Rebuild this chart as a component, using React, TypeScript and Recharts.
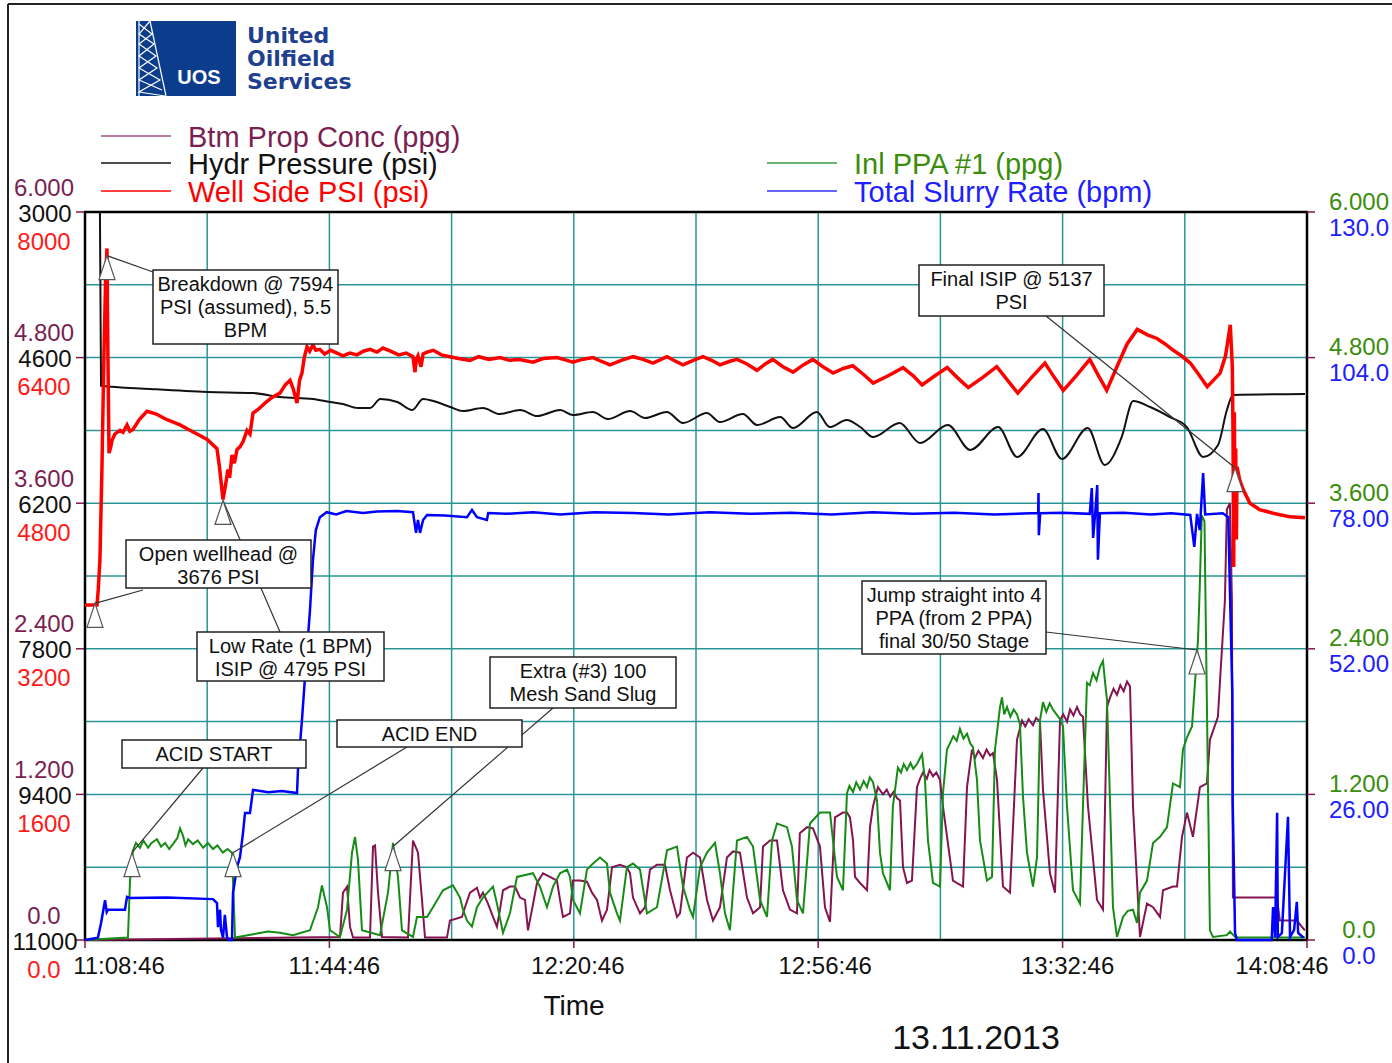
import React from "react";
import {
  ComposedChart,
  Line,
  XAxis,
  YAxis,
  CartesianGrid,
  ReferenceArea,
  ReferenceDot,
} from "recharts";

const W = 1392;
const H = 1063;
const FONT = '"Liberation Sans", Arial, sans-serif';

// colours
const GRID = "#2a9696";
const MAROON = "#85154f";
const PROP_TXT = "#7b1f52";
const GREEN = "#168c16";
const GREEN_TXT = "#3b8d0c";
const BLUE = "#0000ff";
const BLUE_TXT = "#2020ff";
const RED = "#ff0000";

// time is in minutes after 11:08:46
const TIME_TICKS = [0, 36, 72, 108, 144, 180];
const TIME_LABELS = ["11:08:46", "11:44:46", "12:20:46", "12:56:46", "13:32:46", "14:08:46"];
const GRID_MINUTES = [0, 18, 36, 54, 72, 90, 108, 126, 144, 162, 180];
const GRID_PSI = [0, 800, 1600, 2400, 3200, 4000, 4800, 5600, 6400, 7200, 8000];

const PROP_TICKS = [0, 1.2, 2.4, 3.6, 4.8, 6];
const PROP_LABELS = ["0.0", "1.200", "2.400", "3.600", "4.800", "6.000"];
const HYDR_TICKS = [3000, 4600, 6200, 7800, 9400, 11000];
const HYDR_LABELS = ["3000", "4600", "6200", "7800", "9400", "11000"];
const WELL_TICKS = [0, 1600, 3200, 4800, 6400, 8000];
const WELL_LABELS = ["0.0", "1600", "3200", "4800", "6400", "8000"];
const PPA_TICKS = [0, 1.2, 2.4, 3.6, 4.8, 6];
const PPA_LABELS = ["0.0", "1.200", "2.400", "3.600", "4.800", "6.000"];
const RATE_TICKS = [0, 26, 52, 78, 104, 130];
const RATE_LABELS = ["0.0", "26.00", "52.00", "78.00", "104.0", "130.0"];

// [minute, psi]
const WELL_SIDE_PSI = [
  [0, 3680], [1.77, 3680], [1.95, 3850], [2.2, 4180], [2.5, 5200], [2.8, 6480], [3.05, 7300], [3.24, 7600],
  [3.35, 6600], [3.54, 5350], [3.8, 5420], [3.98, 5490], [4.4, 5560], [5.16, 5600], [5.6, 5580], [6.19, 5660],
  [6.6, 5590], [7.07, 5610], [8.0, 5720], [9.13, 5810], [10.5, 5780], [12.0, 5720], [14.0, 5660], [16.0, 5580],
  [18.0, 5500], [19.44, 5400], [19.8, 5200], [20.33, 4840], [20.7, 5000], [21.06, 5170], [21.3, 5080], [21.65, 5330],
  [22.0, 5240], [22.4, 5390], [22.83, 5420], [23.3, 5480], [23.86, 5600], [24.3, 5560], [24.75, 5790], [25.5, 5830],
  [26.5, 5900], [27.5, 5960], [28.72, 6010], [29.5, 6100], [30.2, 6150], [30.7, 6050], [31.23, 5900], [31.6, 6150],
  [31.96, 6230], [32.3, 6400], [32.7, 6520], [33.1, 6470], [33.58, 6540], [34.0, 6480], [34.6, 6490], [35.3, 6440],
  [36.2, 6480], [37.12, 6450], [38.0, 6420], [39.0, 6450], [40.07, 6430], [41.0, 6470], [42.0, 6490], [43.0, 6460],
  [43.89, 6505], [45.0, 6470], [46.2, 6430], [47.3, 6450], [48.31, 6410], [48.61, 6240], [48.8, 6380], [49.05, 6420],
  [49.5, 6300], [49.8, 6440], [50.38, 6460], [51.3, 6480], [52.5, 6430], [53.76, 6410], [55.0, 6390], [56.71, 6370],
  [58.0, 6410], [59.5, 6380], [61.13, 6400], [62.5, 6370], [64.0, 6380], [65.99, 6350], [67.5, 6390], [69.52, 6400],
  [71.0, 6370], [71.88, 6350], [73.2, 6380], [74.83, 6400], [76.0, 6360], [77.33, 6320], [79.0, 6370], [80.72, 6410],
  [82.2, 6380], [83.67, 6340], [85.73, 6410], [87.0, 6360], [88.08, 6320], [89.6, 6370], [91.03, 6410], [92.3, 6370],
  [93.53, 6320], [95.0, 6360], [96.04, 6380], [97.5, 6330], [98.98, 6260], [100.2, 6330], [101.3, 6380], [102.8, 6300],
  [104.3, 6240], [105.8, 6320], [107.2, 6380], [108.7, 6300], [110.2, 6230], [111.7, 6280], [113.1, 6310], [114.6, 6220],
  [116.1, 6120], [118.3, 6200], [120.5, 6290], [122.0, 6200], [123.3, 6100], [125.2, 6200], [127.0, 6290], [128.5, 6180],
  [130.1, 6070], [132.2, 6180], [134.3, 6300], [135.9, 6150], [137.4, 6010], [139.4, 6180], [141.4, 6340], [142.8, 6180],
  [144.1, 6040], [146.0, 6200], [148.0, 6380], [149.3, 6200], [150.5, 6040], [152.0, 6300], [153.5, 6550], [155.0, 6710],
  [156.5, 6650], [157.9, 6610], [159.1, 6550], [160.3, 6480], [161.5, 6420], [162.8, 6340], [164.0, 6220], [165.3, 6080],
  [166.2, 6150], [167.2, 6230], [168.0, 6420], [168.7, 6760], [169.0, 6300], [169.1, 5600], [169.2, 4100], [169.3, 5800],
  [169.4, 4600], [169.5, 5400], [169.6, 4400], [169.7, 5200], [170.1, 5050], [170.6, 4950], [171.6, 4800], [173.0, 4730],
  [175.0, 4690], [177.5, 4650], [179.7, 4640],
];

// [minute, psi] on the reversed 3000..11000 scale
const HYDR_PRESSURE = [
  [2.2, 3000], [2.36, 4910], [9.6, 4945], [18.0, 4978], [24.8, 4990], [28.7, 5033], [33.6, 5055], [36.1, 5088],
  [38.0, 5110], [40.2, 5154], [42.0, 5154], [43.5, 5055], [46.0, 5088], [48.2, 5176], [49.8, 5055], [51.3, 5077],
  [53.8, 5143], [55.7, 5187], [58.6, 5154], [61.1, 5220], [64.1, 5176], [66.6, 5242], [70.0, 5176], [71.9, 5231],
  [74.8, 5198], [77.0, 5275], [80.3, 5187], [82.5, 5264], [85.7, 5198], [88.1, 5319], [91.6, 5209], [93.5, 5308],
  [96.9, 5220], [99.0, 5341], [102.4, 5253], [104.3, 5374], [107.8, 5198], [109.7, 5363], [112.2, 5286], [114.2, 5363],
  [116.1, 5473], [120.0, 5319], [123.0, 5538], [127.1, 5341], [130.4, 5615], [134.5, 5363], [137.3, 5692], [141.1, 5385],
  [143.9, 5714], [147.7, 5374], [150.2, 5780], [152.7, 5473], [154.4, 5077], [156.9, 5143], [159.8, 5253], [162.3, 5363],
  [164.7, 5692], [166.9, 5560], [168.2, 5176], [169.1, 5011], [179.7, 5000],
];

// [minute, bpm]
const SLURRY_RATE = [
  [0, 0], [1.9, 0.4], [2.36, 3.0], [2.95, 7.1], [3.2, 5.0], [3.39, 5.4], [5.89, 5.4], [6.19, 7.7], [6.63, 7.5],
  [12, 7.6], [18.85, 7.3], [19.44, 6.6], [19.59, 2.3], [19.89, 5.4], [20.03, 1.8], [20.33, 0.4], [20.6, 4.5],
  [20.92, 0.5], [21.21, 0], [21.65, 0], [21.8, 8.4], [22.39, 13.0], [22.83, 14.8], [23.27, 19.1], [23.57, 22.7],
  [24.3, 22.7], [24.75, 26.8], [27, 26.4], [29, 26.6], [31.23, 26.25], [31.37, 30.4], [31.96, 39.3], [32.41, 47.0],
  [33.14, 58.9], [33.58, 67.9], [34.0, 73.2], [34.6, 75.5], [35.6, 76.4], [37, 76.0], [38.5, 76.6], [40.95, 76.25],
  [43, 76.5], [45.96, 76.6], [48.31, 76.4], [48.76, 72.7], [49.05, 75.0], [49.35, 72.7], [49.8, 75.0], [50.38, 75.9],
  [53, 75.8], [56.27, 75.5], [57.0, 76.8], [57.74, 75.5], [59.2, 75.0], [59.4, 76.25], [62, 76.1], [66.0, 76.4],
  [70, 76.0], [75, 76.4], [80.7, 76.25], [86, 76.0], [92, 76.4], [98, 76.1], [104, 76.3], [110, 76.0], [116, 76.4],
  [122, 76.1], [128, 76.3], [134, 76.0], [140.4, 76.25], [140.45, 79.8], [140.5, 72.3], [140.7, 76.2], [144, 76.3],
  [148.0, 76.1], [148.3, 80.7], [148.5, 71.8], [148.8, 76.2], [149.1, 81.25], [149.2, 67.9], [149.5, 76.2], [153, 76.3],
  [157, 76.0], [160, 76.2], [162.8, 75.9], [163.4, 70.2], [163.8, 76.1], [164.2, 73.2], [164.7, 83.4], [165.0, 76.0],
  [167.6, 76.2], [168.4, 75.5], [169.0, 44.1], [169.05, 25], [169.4, 1.25], [169.7, 0], [174.8, 0], [175.0, 5.9],
  [175.3, 0.5], [175.6, 22.7], [175.7, 0.5], [176.3, 1.25], [177.2, 22], [177.5, 0.5], [178.1, 1.8], [178.5, 6.8],
  [178.7, 1.25], [179.5, 0.4],
];

// [minute, ppg]
const INLET_PPA = [
  [0, 0], [6.33, 0.02], [6.63, 0.49], [7.07, 0.74], [7.5, 0.8], [8.1, 0.76], [8.6, 0.82], [9.3, 0.76], [9.8, 0.8],
  [10.6, 0.83], [11.2, 0.77], [11.8, 0.8], [12.4, 0.75], [12.96, 0.79], [13.6, 0.84], [14.0, 0.92], [14.43, 0.86],
  [14.8, 0.78], [15.2, 0.83], [15.9, 0.79], [16.6, 0.82], [17.4, 0.76], [18.1, 0.8], [18.85, 0.75], [19.5, 0.78],
  [20.3, 0.72], [21.0, 0.75], [21.65, 0.72],
  [21.8, 0.49], [22.1, 0.02], [26.96, 0.07], [28.72, 0.06], [30.64, 0.04], [33.14, 0.08], [34.32, 0.27], [34.9, 0.45],
  [35.65, 0.27], [36.09, 0.08], [37.56, 0.025], [38.6, 0.25], [39.33, 0.72], [39.77, 0.85], [40.21, 0.66], [40.8, 0.08],
  [43.45, 0.04], [44.63, 0.39], [45.37, 0.8], [46.1, 0.52], [46.69, 0.08], [48.31, 0.025], [48.9, 0.19], [50.38, 0.19],
  [51.26, 0.27], [52.73, 0.41], [54.2, 0.45], [55.24, 0.35], [55.68, 0.25], [56.27, 0.16], [57.0, 0.11], [57.74, 0.27],
  [58.62, 0.35], [60.1, 0.44], [60.68, 0.3], [61.57, 0.06], [62.6, 0.22], [63.63, 0.52], [65.99, 0.55], [67.02, 0.44],
  [68.05, 0.27], [68.94, 0.44], [69.97, 0.55], [71.0, 0.58], [71.44, 0.52], [71.88, 0.33], [72.91, 0.22], [73.94, 0.58],
  [74.83, 0.63], [75.86, 0.68], [76.89, 0.63], [77.33, 0.39], [78.36, 0.22], [78.8, 0.16], [79.83, 0.6], [80.72, 0.63],
  [81.75, 0.58], [82.78, 0.22], [84.25, 0.27], [85.14, 0.55], [85.73, 0.74], [87.2, 0.77], [88.08, 0.44], [89.11, 0.25],
  [89.56, 0.19], [90.59, 0.6], [91.62, 0.72], [92.8, 0.8], [93.53, 0.55], [94.27, 0.22], [95.0, 0.08], [96.04, 0.82],
  [97.51, 0.85], [98.4, 0.77], [99.43, 0.33], [100.46, 0.19], [101.2, 0.82], [101.93, 0.96], [103.4, 0.93], [104.14, 0.77],
  [104.87, 0.33], [105.76, 0.22], [106.79, 0.96], [108.26, 1.05], [109.74, 1.05], [110.18, 0.82], [110.77, 0.52],
  [111.65, 0.41], [112.24, 1.21], [112.6, 1.27], [113.13, 1.22], [113.6, 1.3], [114.16, 1.24], [114.7, 1.31],
  [115.19, 1.26], [115.6, 1.34], [116.07, 1.3], [116.66, 1.15],
  [117.1, 0.72], [117.54, 0.55], [118.57, 0.41], [119.0, 1.1], [119.74, 1.42], [120.2, 1.38], [120.6, 1.45],
  [121.08, 1.4], [121.6, 1.46], [122.0, 1.41], [122.55, 1.45], [123.0, 1.5], [123.29, 1.53], [123.73, 1.32],
  [124.17, 0.82], [124.91, 0.47], [125.94, 0.44], [126.38, 1.21], [126.97, 1.57], [127.4, 1.62], [127.9, 1.68],
  [128.4, 1.64], [128.88, 1.74], [129.4, 1.66], [129.92, 1.7], [130.4, 1.62], [130.8, 1.59], [131.39, 1.32],
  [131.83, 0.82], [132.86, 0.49], [133.6, 0.52], [134.04, 1.57], [134.78, 1.92], [135.07, 2.0], [135.4, 1.86],
  [135.81, 1.92], [136.3, 1.84], [136.8, 1.9], [137.28, 1.86], [137.72, 1.78], [138.17, 1.18],
  [138.75, 0.72], [139.64, 0.44], [140.23, 0.68], [140.67, 1.81], [141.11, 1.96], [141.6, 1.88], [142.1, 1.95],
  [142.58, 1.9], [143.1, 1.86], [143.62, 1.82], [144.06, 1.76], [144.65, 1.1], [145.53, 0.41], [146.56, 0.3],
  [147.0, 1.1], [147.59, 2.12], [148.0, 2.1], [148.48, 2.2], [149.0, 2.14], [149.5, 2.25], [149.95, 2.3],
  [150.3, 2.1], [150.54, 1.98], [150.98, 1.15], [151.42, 0.27], [152.01, 0.025], [152.9, 0.19], [153.6, 0.24],
  [154.37, 0.25], [154.96, 0.14], [155.4, 0.39], [156.43, 0.49], [157.32, 0.8], [158.35, 0.85], [159.38, 0.93],
  [160.26, 1.29], [161.29, 1.26], [161.73, 1.57], [162.32, 1.67], [163.06, 1.76], [163.5, 2.12], [163.94, 2.47],
  [164.2, 2.9], [164.5, 3.5], [164.9, 3.45], [165.05, 2.8], [165.7, 0.08], [166.14, 0.025], [168.2, 0.04],
  [168.65, 0.07], [169.5, 0.02], [179.7, 0.02],
];

// [minute, ppg]
const PROP_CONC = [
  [0, 0], [37.56, 0.025], [38.0, 0.39], [38.6, 0.44], [39.03, 0.11], [39.48, 0.02], [41.98, 0.02], [42.42, 0.77],
  [42.72, 0.78], [43.16, 0.39], [43.75, 0.025], [47.58, 0.02], [48.31, 0.82], [48.9, 0.74], [49.05, 0.72], [49.64, 0.33],
  [50.08, 0.02], [53.32, 0.02], [53.76, 0.16], [55.53, 0.19], [55.97, 0.27], [56.71, 0.39], [57.74, 0.43], [58.18, 0.35],
  [58.62, 0.39], [59.36, 0.3], [60.1, 0.19], [60.68, 0.11], [61.13, 0.25], [61.57, 0.41], [62.6, 0.44], [63.34, 0.44],
  [64.07, 0.35], [64.81, 0.33], [65.25, 0.08], [65.84, 0.25], [66.58, 0.47], [67.46, 0.55], [68.49, 0.52], [69.52, 0.49],
  [69.97, 0.33], [70.41, 0.19], [71.44, 0.22], [71.88, 0.49], [72.91, 0.49], [73.94, 0.48], [74.68, 0.39], [75.42, 0.33],
  [76.15, 0.16], [76.89, 0.25], [77.63, 0.6], [78.8, 0.62], [79.83, 0.6], [80.28, 0.55], [80.72, 0.35], [81.75, 0.22],
  [82.49, 0.27], [83.22, 0.58], [84.25, 0.62], [85.43, 0.62], [86.17, 0.41], [87.2, 0.19], [87.64, 0.22], [88.67, 0.68],
  [89.56, 0.72], [90.59, 0.68], [91.62, 0.33], [92.5, 0.16], [93.53, 0.27], [94.56, 0.68], [95.45, 0.73], [96.48, 0.72],
  [97.51, 0.35], [98.4, 0.22], [99.43, 0.27], [99.87, 0.77], [100.9, 0.82], [101.93, 0.82], [102.81, 0.41], [103.84, 0.25],
  [104.87, 0.22], [105.3, 0.88], [106.35, 0.93], [107.23, 0.92], [108.26, 0.77], [109.0, 0.27], [109.74, 0.15],
  [110.47, 1.01], [111.65, 1.05], [112.24, 1.05], [112.68, 1.01], [113.13, 0.82], [113.42, 0.52], [114.16, 0.47],
  [115.19, 0.41], [115.63, 0.93], [116.07, 1.1], [116.8, 1.26], [117.54, 1.2], [118.1, 1.24], [118.6, 1.18],
  [119.1, 1.22], [119.6, 1.17], [120.05, 1.15],
  [120.49, 0.6], [121.08, 0.47], [121.81, 0.49], [122.55, 1.26], [123.0, 1.33], [123.44, 1.38], [124.0, 1.33],
  [124.4, 1.4], [124.91, 1.35], [125.4, 1.38], [125.94, 1.32],
  [126.38, 1.1], [127.85, 0.49], [129.33, 0.44], [129.92, 1.26], [130.65, 1.57], [131.1, 1.5], [131.6, 1.56],
  [132.27, 1.5], [132.8, 1.57], [133.3, 1.52], [133.75, 1.54],
  [134.34, 1.32], [135.22, 0.44], [136.25, 0.39], [137.28, 1.65], [138.02, 1.81], [138.5, 1.76], [139.0, 1.82],
  [139.64, 1.77], [140.1, 1.83], [140.67, 1.8],
  [141.11, 1.24], [142.14, 0.55], [142.88, 0.39], [143.62, 1.81], [144.1, 1.86], [144.65, 1.8], [145.1, 1.9],
  [145.6, 1.85], [146.12, 1.92], [146.6, 1.86], [147.0, 1.84],
  [147.74, 1.1], [149.07, 0.33], [149.95, 0.25], [150.54, 1.92], [151.0, 2.0], [151.5, 2.07], [152.01, 2.02],
  [152.5, 2.1], [153.0, 2.05], [153.49, 2.13], [153.93, 2.09],
  [154.37, 1.1], [155.4, 0.025], [156.43, 0.3], [157.32, 0.27], [158.35, 0.19], [158.79, 0.41], [160.26, 0.44],
  [160.85, 0.44], [161.59, 0.85], [162.32, 1.05], [163.2, 0.85], [164.23, 1.26], [165.26, 1.29], [165.7, 1.65],
  [166.88, 1.84], [167.17, 2.12], [167.91, 2.8], [168.2, 3.55], [168.65, 3.6], [168.94, 2.8], [169.09, 0.35],
  [175.56, 0.35], [176.0, 0.16], [178.5, 0.16], [179.68, 0.08],
];

const toRows = (pts: number[][]) => pts.map(([m, v]) => ({ m, v }));

// annotation markers: point on a series, and where its leader line meets the text box
const MARKERS = [
  { axis: "well", m: 3.24, v: 7520, to: [153, 272] },
  { axis: "well", m: 1.47, v: 3700, to: [143, 590] },
  { axis: "well", m: 20.33, v: 4830, to: [280, 632] },
  { axis: "ppa", m: 6.92, v: 0.72, to: [203, 768] },
  { axis: "ppa", m: 21.8, v: 0.72, to: [407, 747] },
  { axis: "ppa", m: 45.37, v: 0.77, to: [553, 708] },
  { axis: "ppa", m: 163.8, v: 2.39, to: [1046, 632] },
  { axis: "well", m: 169.4, v: 5190, to: [1046, 316] },
];

const BOXES = [
  { x: 153, y: 270, w: 185, h: 74, lines: ["Breakdown @ 7594", "PSI (assumed), 5.5", "BPM"] },
  { x: 126, y: 540, w: 185, h: 48, lines: ["Open wellhead @", "3676 PSI"] },
  { x: 197, y: 632, w: 187, h: 49, lines: ["Low Rate (1 BPM)", "ISIP @ 4795 PSI"] },
  { x: 122, y: 740, w: 184, h: 28, lines: ["ACID START"] },
  { x: 337, y: 720, w: 185, h: 27, lines: ["ACID END"] },
  { x: 490, y: 657, w: 186, h: 51, lines: ["Extra (#3) 100", "Mesh Sand Slug"] },
  { x: 862, y: 581, w: 184, h: 73, lines: ["Jump straight into 4", "PPA (from 2 PPA)", "final 30/50 Stage"] },
  { x: 919, y: 265, w: 185, h: 51, lines: ["Final ISIP @ 5137", "PSI"] },
];

function axisTick(ticks: number[], labels: string[], cx: number, dy: number, color: string) {
  return (props: any) => {
    const i = ticks.indexOf(props.payload.value);
    return (
      <text
        x={cx}
        y={props.y + dy}
        textAnchor="middle"
        dominantBaseline="central"
        fill={color}
        fontSize={24}
        fontFamily={FONT}
      >
        {labels[i]}
      </text>
    );
  };
}

const TIME_SHIFT = [34, 5, 4, 7, 5, -25];

function TimeTick(props: any) {
  const i = TIME_TICKS.indexOf(props.payload.value);
  return (
    <text
      x={props.x + TIME_SHIFT[i]}
      y={props.y + 15}
      textAnchor="middle"
      dominantBaseline="central"
      fill="#111"
      fontSize={24}
      fontFamily={FONT}
    >
      {TIME_LABELS[i]}
    </text>
  );
}

function Marker({ cx, cy, to }: { cx: number; cy: number; to: number[] }) {
  return (
    <g>
      <line x1={cx} y1={cy} x2={to[0]} y2={to[1]} stroke="#333" strokeWidth={1.2} />
      <polygon
        points={`${cx},${cy} ${cx - 8},${cy + 24} ${cx + 8},${cy + 24}`}
        fill="#fff"
        stroke="#555"
        strokeWidth={1.2}
      />
    </g>
  );
}

function Logo() {
  return (
    <g>
      <rect x={136} y={21} width={100} height={75} fill="#0b3d8c" />
      <g stroke="#fff" strokeWidth={1.2} fill="none">
        <line x1={139} y1={21} x2={139} y2={96} />
        <line x1={150} y1={21} x2={166} y2={96} />
        <polyline points="139,24 152,34 139,44 156,56 139,68 160,80 139,92 165,96" />
        <polyline points="150,21 139,34 154,44 139,56 157,68 139,80 162,90" />
      </g>
      <text x={199} y={77} textAnchor="middle" dominantBaseline="central" fill="#fff"
        fontSize={20} fontWeight="bold" fontFamily={FONT}>UOS</text>
      <g fill="#1f3f8f" fontSize={22} fontWeight="bold" fontFamily='"DejaVu Sans", Verdana, sans-serif'>
        <text x={247} y={35} dominantBaseline="central">United</text>
        <text x={247} y={58} dominantBaseline="central">Oilfield</text>
        <text x={247} y={81} dominantBaseline="central">Services</text>
      </g>
    </g>
  );
}

function LegendRow({ x, y, color, lineColor, label }: { x: number; y: number; color: string; lineColor: string; label: string }) {
  return (
    <g>
      <line x1={x} y1={y - 1} x2={x + 70} y2={y - 1} stroke={lineColor} strokeWidth={1.5} />
      <text x={x + 87} y={y} dominantBaseline="central" fill={color} fontSize={29} fontFamily={FONT}>
        {label}
      </text>
    </g>
  );
}

export default function App() {
  return (
    <div style={{ position: "absolute", left: 0, top: 0, width: W, height: H, background: "#fff" }}>
      <ComposedChart width={W} height={H} margin={{ top: 212, right: 83, bottom: 93, left: 82 }}>
        <CartesianGrid
          xAxisId="time"
          yAxisId="well"
          verticalValues={GRID_MINUTES}
          horizontalValues={GRID_PSI}
          stroke={GRID}
          strokeWidth={1.5}
        />

        <XAxis
          xAxisId="time"
          type="number"
          dataKey="m"
          domain={[0, 180]}
          ticks={TIME_TICKS}
          interval={0}
          axisLine={false}
          tickLine={{ stroke: MAROON, strokeWidth: 1.5 }}
          tickSize={8}
          height={30}
          tick={TimeTick}
        />
        <YAxis yAxisId="prop" orientation="left" width={1} type="number" domain={[0, 6]} ticks={PROP_TICKS}
          interval={0} axisLine={false} tickLine={{ stroke: MAROON, strokeWidth: 1.5 }} tickSize={8}
          tick={axisTick(PROP_TICKS, PROP_LABELS, 44, -25, PROP_TXT)} />
        <YAxis yAxisId="hydr" orientation="left" width={1} type="number" domain={[3000, 11000]} reversed
          allowDataOverflow ticks={HYDR_TICKS} interval={0} axisLine={false} tickLine={false}
          tick={axisTick(HYDR_TICKS, HYDR_LABELS, 45, 1, "#111")} />
        <YAxis yAxisId="well" orientation="left" width={1} type="number" domain={[0, 8000]} ticks={WELL_TICKS}
          interval={0} axisLine={false} tickLine={false}
          tick={axisTick(WELL_TICKS, WELL_LABELS, 44, 29, "#ff1a1a")} />
        <YAxis yAxisId="ppa" orientation="right" width={1} type="number" domain={[0, 6]} ticks={PPA_TICKS}
          interval={0} axisLine={false} tickLine={{ stroke: MAROON, strokeWidth: 1.5 }} tickSize={8}
          tick={axisTick(PPA_TICKS, PPA_LABELS, 1359, -11, GREEN_TXT)} />
        <YAxis yAxisId="rate" orientation="right" width={1} type="number" domain={[0, 130]} ticks={RATE_TICKS}
          interval={0} axisLine={false} tickLine={false}
          tick={axisTick(RATE_TICKS, RATE_LABELS, 1359, 15, BLUE_TXT)} />

        <Line xAxisId="time" yAxisId="prop" data={toRows(PROP_CONC)} dataKey="v" type="linear"
          stroke={MAROON} strokeWidth={2} dot={false} isAnimationActive={false} />
        <Line xAxisId="time" yAxisId="ppa" data={toRows(INLET_PPA)} dataKey="v" type="linear"
          stroke={GREEN} strokeWidth={2} dot={false} isAnimationActive={false} />
        <Line xAxisId="time" yAxisId="rate" data={toRows(SLURRY_RATE)} dataKey="v" type="linear"
          stroke={BLUE} strokeWidth={2.5} dot={false} isAnimationActive={false} />
        <Line xAxisId="time" yAxisId="hydr" data={toRows(HYDR_PRESSURE)} dataKey="v" type="monotone"
          stroke="#111" strokeWidth={2} dot={false} isAnimationActive={false} />
        <Line xAxisId="time" yAxisId="well" data={toRows(WELL_SIDE_PSI)} dataKey="v" type="linear"
          stroke={RED} strokeWidth={3.5} dot={false} isAnimationActive={false} />

        <ReferenceArea xAxisId="time" yAxisId="well" x1={0} x2={180} y1={0} y2={8000}
          fill="none" fillOpacity={0} stroke="#000" strokeWidth={2.5} />

        {MARKERS.map((mk, i) => (
          <ReferenceDot
            key={i}
            xAxisId="time"
            yAxisId={mk.axis}
            x={mk.m}
            y={mk.v}
            r={0}
            shape={(p: any) => <Marker cx={p.cx} cy={p.cy} to={mk.to} />}
          />
        ))}
      </ComposedChart>

      <svg width={W} height={H} style={{ position: "absolute", left: 0, top: 0, pointerEvents: "none" }}>
        <line x1={8} y1={4} x2={8} y2={H} stroke="#222" strokeWidth={2} />
        <line x1={8} y1={4} x2={W} y2={4} stroke="#222" strokeWidth={2} />
        <Logo />

        <LegendRow x={101} y={137} color={PROP_TXT} lineColor="#a05585" label="Btm Prop Conc (ppg)" />
        <LegendRow x={101} y={164} color="#111" lineColor="#111" label="Hydr Pressure (psi)" />
        <LegendRow x={101} y={192} color={RED} lineColor={RED} label="Well Side PSI (psi)" />
        <LegendRow x={767} y={164} color={GREEN_TXT} lineColor="#3c9a40" label="Inl PPA #1 (ppg)" />
        <LegendRow x={767} y={192} color={BLUE_TXT} lineColor="#3030ff" label="Total Slurry Rate (bpm)" />

        {BOXES.map((b, i) => (
          <g key={i}>
            <rect x={b.x} y={b.y} width={b.w} height={b.h} fill="#fff" stroke="#222" strokeWidth={1.5} />
            {b.lines.map((t, j) => (
              <text key={j} x={b.x + b.w / 2} y={b.y + 14 + j * 23} textAnchor="middle"
                dominantBaseline="central" fill="#111" fontSize={20} fontFamily={FONT}>
                {t}
              </text>
            ))}
          </g>
        ))}

        <text x={574} y={1005} textAnchor="middle" dominantBaseline="central" fill="#111" fontSize={28} fontFamily={FONT}>
          Time
        </text>
        <text x={976} y={1037} textAnchor="middle" dominantBaseline="central" fill="#111" fontSize={34} fontFamily={FONT}>
          13.11.2013
        </text>
      </svg>
    </div>
  );
}
